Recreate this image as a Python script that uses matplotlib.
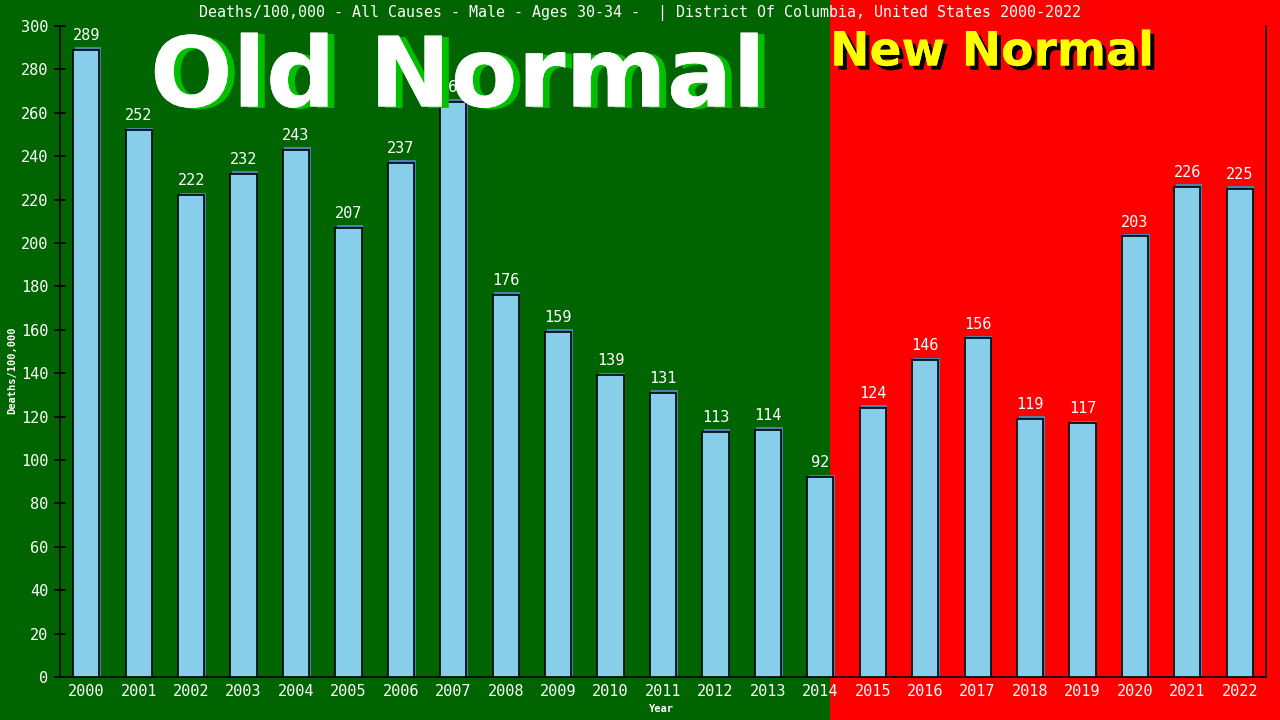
import matplotlib
matplotlib.use('Agg')
import matplotlib.pyplot as plt
import matplotlib.patheffects as pe
from matplotlib.patches import Rectangle

#----Data----#
years = [str(y) for y in range(2000, 2023)]
deaths = [289, 252, 222, 232, 243, 207, 237, 265, 176, 159, 139, 131,
          113, 114, 92, 124, 146, 156, 119, 117, 203, 226, 225]
y_ticks = list(range(0, 301, 20))

title = 'Deaths/100,000 - All Causes - Male - Ages 30-34 -  | District Of Columbia, United States 2000-2022'

mono = 'DejaVu Sans Mono'

fig = plt.figure(figsize=(12.8, 7.2), dpi=100)
fig.patch.set_facecolor('#006400')
# red "new normal" part of the background
fig.patches.append(Rectangle((830 / 1280, 0), 1 - 830 / 1280, 1, transform=fig.transFigure,
                             facecolor='#ff0000', edgecolor='none', zorder=-10))

ax = fig.add_axes([60 / 1280, 43 / 720, 1206 / 1280, 651 / 720])
ax.set_facecolor('none')

x = list(range(len(years)))
# little blue shadow behind each bar
ax.bar([i + 0.03 for i in x], [d + 1.2 for d in deaths], width=0.5,
       color='#4682b4', edgecolor='none', zorder=2)
ax.bar(x, deaths, width=0.5, color='#87ceeb', edgecolor='black', linewidth=1.2, zorder=3)

for i, d in zip(x, deaths):
    ax.annotate(str(d), (i, d), xytext=(0, 5), textcoords='offset points',
                ha='center', va='bottom', color='white', fontsize=11, family=mono, zorder=4)

ax.set_xlim(-0.5, len(years) - 0.5)
ax.set_ylim(0, 300)
ax.set_yticks(y_ticks)
ax.set_xticks(x)
ax.set_xticklabels(years)
ax.tick_params(axis='y', direction='inout', length=9, width=1.2, colors='black',
               labelcolor='white', labelsize=11, pad=4)
ax.tick_params(axis='x', length=0, labelcolor='white', labelsize=11, pad=5)
for lbl in ax.get_xticklabels() + ax.get_yticklabels():
    lbl.set_family(mono)

for side in ['left', 'bottom', 'right']:
    ax.spines[side].set_color('black')
    ax.spines[side].set_linewidth(1.2)
ax.spines['top'].set_visible(False)

fig.text(0.5, 0.982, title, ha='center', va='center', color='white', fontsize=10.8, family=mono)
fig.text(12 / 1280, 350 / 720, 'Deaths/100,000', rotation=90, ha='center', va='center',
         color='white', fontsize=7.5, family=mono, fontweight='bold')
fig.text(661 / 1280, 11 / 720, 'Year', ha='center', va='center', color='white',
         fontsize=7.5, family=mono, fontweight='bold')

# big overlay words
fig.text(150 / 1280, 1 - 80 / 720, 'Old Normal', ha='left', va='center', color='white',
         fontsize=70, fontweight='bold', family='DejaVu Sans',
         path_effects=[pe.withSimplePatchShadow(offset=(5, -1), shadow_rgbFace='#00c000', alpha=1),
                       pe.Normal()])
fig.text(830 / 1280, 1 - 53 / 720, 'New Normal', ha='left', va='center', color='#ffff00',
         fontsize=34, fontweight='bold', family='DejaVu Sans',
         path_effects=[pe.withSimplePatchShadow(offset=(3, -3), shadow_rgbFace='black', alpha=1),
                       pe.Normal()])

plt.savefig('out.png', dpi=100, facecolor=fig.get_facecolor())
